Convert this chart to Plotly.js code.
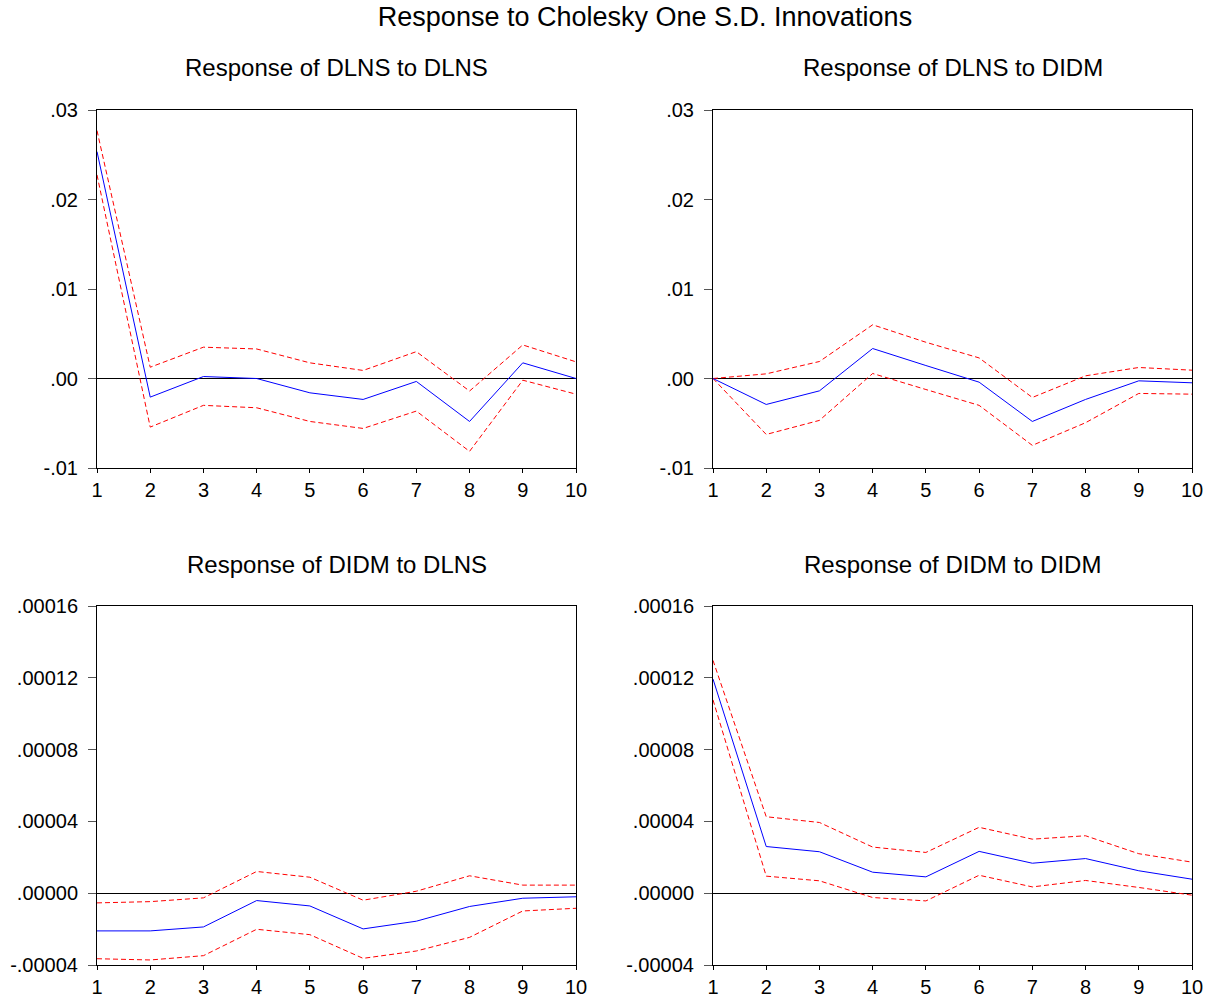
<!DOCTYPE html>
<html>
<head>
<meta charset="utf-8">
<script src="https://cdn.plot.ly/plotly-3.0.1.min.js"></script>
<style>html,body{margin:0;padding:0;background:#fff;}#chart{width:1215px;height:997px;}</style>
</head>
<body>
<div id="chart"></div>
<script>
// Periods
const periods = [1, 2, 3, 4, 5, 6, 7, 8, 9, 10];

// Response of DLNS to DLNS
const dlnsDlnsResp  = [0.02535, -0.00208, 0.00022, 0.0, -0.0016, -0.00234, -0.00033, -0.0048, 0.00175, 0.0];
const dlnsDlnsUpper = [0.0277, 0.00126, 0.0035, 0.0033, 0.00175, 0.0009, 0.0030, -0.0014, 0.00375, 0.00186];
const dlnsDlnsLower = [0.02275, -0.00543, -0.0030, -0.00327, -0.0048, -0.00558, -0.00364, -0.00814, -0.00019, -0.00175];

// Response of DLNS to DIDM
const dlnsDidmResp  = [0.0, -0.0029, -0.00138, 0.00335, 0.00145, -0.00041, -0.0048, -0.00234, -0.00026, -0.00048];
const dlnsDidmUpper = [0.0, 0.00052, 0.0019, 0.0060, 0.00405, 0.0023, -0.00212, 0.0003, 0.00123, 0.00093];
const dlnsDidmLower = [0.0, -0.00625, -0.00468, 0.00056, -0.00123, -0.0030, -0.00747, -0.00494, -0.00167, -0.00175];

// Response of DIDM to DLNS
const didmDlnsResp  = [-0.0000210, -0.0000210, -0.0000188, -0.0000041, -0.0000071, -0.0000199, -0.0000156, -0.0000074, -0.0000028, -0.0000020];
const didmDlnsUpper = [-0.0000054, -0.0000047, -0.0000026, 0.0000121, 0.0000089, -0.0000039, 0.0000011, 0.0000097, 0.0000045, 0.0000045];
const didmDlnsLower = [-0.0000365, -0.0000372, -0.0000348, -0.0000201, -0.0000231, -0.0000363, -0.0000322, -0.0000246, -0.0000099, -0.0000084];

// Response of DIDM to DIDM
const didmDidmResp  = [0.0001193, 0.0000260, 0.0000231, 0.0000117, 0.0000091, 0.0000233, 0.0000167, 0.0000193, 0.0000125, 0.0000078];
const didmDidmUpper = [0.0001297, 0.0000426, 0.0000394, 0.0000257, 0.0000227, 0.0000367, 0.0000301, 0.0000320, 0.0000220, 0.0000173];
const didmDidmLower = [0.0001077, 0.0000095, 0.0000069, -0.0000024, -0.0000043, 0.0000100, 0.0000035, 0.0000071, 0.0000032, -0.0000011];

// Tick labels
const topTickVals = [-0.01, 0, 0.01, 0.02, 0.03];
const topTickText = ["-.01", ".00", ".01", ".02", ".03"];
const botTickVals = [-0.00004, 0, 0.00004, 0.00008, 0.00012, 0.00016];
const botTickText = ["-.00004", ".00000", ".00004", ".00008", ".00012", ".00016"];

const panelTitles = ["Response of DLNS to DLNS", "Response of DLNS to DIDM", "Response of DIDM to DLNS", "Response of DIDM to DIDM"];
const mainTitle = "Response to Cholesky One S.D. Innovations";

const W = 1215, H = 997;
const FONT = "Liberation Sans, Arial, sans-serif";

const panels = [
  {resp: dlnsDlnsResp, up: dlnsDlnsUpper, lo: dlnsDlnsLower, xa: "x",  ya: "y"},
  {resp: dlnsDidmResp, up: dlnsDidmUpper, lo: dlnsDidmLower, xa: "x2", ya: "y2"},
  {resp: didmDlnsResp, up: didmDlnsUpper, lo: didmDlnsLower, xa: "x3", ya: "y3"},
  {resp: didmDidmResp, up: didmDidmUpper, lo: didmDidmLower, xa: "x4", ya: "y4"}
];

const traces = [];
panels.forEach(p => {
  traces.push({x: periods, y: p.up, xaxis: p.xa, yaxis: p.ya, type: "scatter", mode: "lines",
    line: {color: "#FF0000", width: 1, dash: "5px,3px"}, hoverinfo: "skip"});
  traces.push({x: periods, y: p.lo, xaxis: p.xa, yaxis: p.ya, type: "scatter", mode: "lines",
    line: {color: "#FF0000", width: 1, dash: "5px,3px"}, hoverinfo: "skip"});
  traces.push({x: periods, y: p.resp, xaxis: p.xa, yaxis: p.ya, type: "scatter", mode: "lines",
    line: {color: "#0000FF", width: 1}, hoverinfo: "skip"});
});

const xLeft = [97 / W, 576 / W];
const xRight = [713 / W, 1192 / W];
const yTop = [1 - 468 / H, 1 - 110 / H];
const yBot = [1 - 965 / H, 1 - 606 / H];

function xAxis(domain, anchor) {
  return {domain: domain, anchor: anchor, range: [1, 10], tickvals: periods, ticktext: periods.map(String),
    showgrid: false, zeroline: false, showline: true, linecolor: "#000", linewidth: 1, mirror: true,
    ticks: "outside", ticklen: 4, tickcolor: "#000", tickfont: {family: FONT, size: 20, color: "#000"}, fixedrange: true};
}
function yAxis(domain, anchor, vals, text) {
  return {domain: domain, anchor: anchor, range: [vals[0], vals[vals.length - 1]], tickvals: vals, ticktext: text,
    showgrid: false, zeroline: true, zerolinecolor: "#000", zerolinewidth: 1,
    showline: true, linecolor: "#000", linewidth: 1, mirror: true,
    ticks: "outside", ticklen: 8, tickcolor: "#555", ticklabelstandoff: 6,
    tickfont: {family: FONT, size: 20, color: "#000"}, fixedrange: true};
}

const titleY = [1 - 68 / H, 1 - 68 / H, 1 - 564 / H, 1 - 564 / H];
const titleX = [(97 + 576) / 2 / W, (713 + 1192) / 2 / W, (97 + 576) / 2 / W, (713 + 1192) / 2 / W];

const layout = {
  width: W, height: H,
  margin: {l: 0, r: 0, t: 0, b: 0},
  paper_bgcolor: "#fff", plot_bgcolor: "#fff",
  showlegend: false,
  title: {text: mainTitle, x: 645 / W, xanchor: "center", y: 1 - 17 / H, yanchor: "middle",
    font: {family: FONT, size: 27, color: "#000"}},
  xaxis: xAxis(xLeft, "y"), yaxis: yAxis(yTop, "x", topTickVals, topTickText),
  xaxis2: xAxis(xRight, "y2"), yaxis2: yAxis(yTop, "x2", topTickVals, topTickText),
  xaxis3: xAxis(xLeft, "y3"), yaxis3: yAxis(yBot, "x3", botTickVals, botTickText),
  xaxis4: xAxis(xRight, "y4"), yaxis4: yAxis(yBot, "x4", botTickVals, botTickText),
  annotations: panelTitles.map((t, i) => ({text: t, xref: "paper", yref: "paper", x: titleX[i], y: titleY[i],
    xanchor: "center", yanchor: "middle", showarrow: false, font: {family: FONT, size: 24, color: "#000"}}))
};

Plotly.newPlot("chart", traces, layout, {displayModeBar: false, staticPlot: true});
</script>
</body>
</html>
